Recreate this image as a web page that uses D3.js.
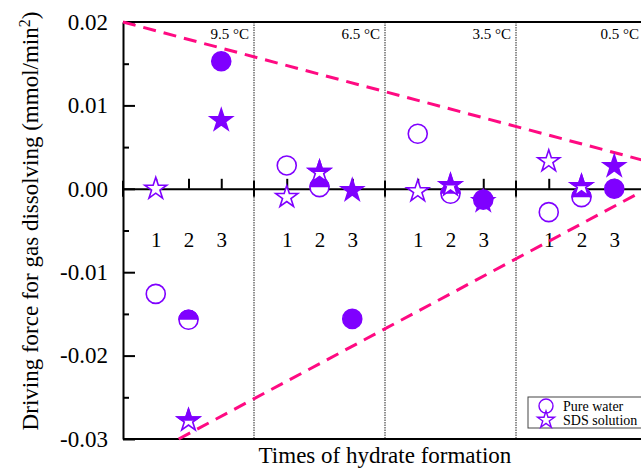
<!DOCTYPE html>
<html>
<head>
<meta charset="utf-8">
<script src="https://cdn.jsdelivr.net/npm/d3@7"></script>
<style>
  body { margin:0; background:#fff; }
  svg, svg text { font-family:"Liberation Serif","Times New Roman",serif; }
</style>
</head>
<body>
<div id="chart"></div>
<script>
var svgW = 641,
    svgH = 475;

// data
var temps = ['9.5 °C', '6.5 °C', '3.5 °C', '0.5 °C'];
var runs = ['1', '2', '3'];
var runFill = ['open', 'half', 'full'];
var pureWater = [
  [-0.0126, -0.0157, 0.0153],
  [0.0028, 0.0002, -0.0156],
  [0.0066, -0.0006, -0.0013],
  [-0.0028, -0.0010, 0.0000]
];
var sdsSolution = [
  [0.0000, -0.0278, 0.0082],
  [-0.0010, 0.0020, -0.0002],
  [-0.0003, 0.0004, -0.0015],
  [0.0033, 0.0003, 0.0027]
];
var upperBound = [{x:0, y:0.02}, {x:16, y:0.0033}];
var lowerBound = [{x:1.7, y:-0.03}, {x:16, y:0.0}];
var yMajor = [0.02, 0.01, 0.00, -0.01, -0.02, -0.03];
var yMinor = [0.015, 0.005, -0.005, -0.015, -0.025];

var violet = '#7f00ff',
    pink = '#ff0a82',
    serif = '"Liberation Serif","Times New Roman",serif';

var x = d3.scaleLinear().domain([0, 16]).range([123, 647]),
    y = d3.scaleLinear().domain([-0.03, 0.02]).range([439, 22]);

var svg = d3.select('#chart')
  .append('svg')
    .attr('width', svgW)
    .attr('height', svgH);

var defs = svg.append('defs');
defs.append('clipPath')
    .attr('id', 'topHalf')
  .append('rect')
    .attr('x', -20).attr('y', -20)
    .attr('width', 40).attr('height', 20);

// group separators
var seps = d3.range(1, temps.length + 1).map(function(i){ return i*4; });
svg.append('g')
  .selectAll('line')
  .data(seps)
  .enter()
  .append('line')
    .attr('x1', function(d){ return x(d); })
    .attr('x2', function(d){ return x(d); })
    .attr('y1', y(0.02))
    .attr('y2', y(-0.03))
    .style('stroke', '#222')
    .style('stroke-width', 1)
    .style('stroke-dasharray', '1.5,1');

// temperature labels
svg.append('g')
  .selectAll('text')
  .data(temps)
  .enter()
  .append('text')
    .attr('x', function(d, i){ return Math.min(x((i+1)*4) - 5, 639); })
    .attr('y', 39)
    .attr('text-anchor', 'end')
    .style('font-size', '15px')
    .text(function(d){ return d; });

// frame
svg.append('line')
    .attr('x1', x(0)).attr('x2', x(16))
    .attr('y1', y(0.02)).attr('y2', y(0.02))
    .style('stroke', '#000').style('stroke-width', 2);
svg.append('line')
    .attr('x1', x(0)).attr('x2', x(16))
    .attr('y1', y(-0.03)).attr('y2', y(-0.03))
    .style('stroke', '#000').style('stroke-width', 2);

// y axis
var yAxis = svg.append('g')
    .attr('transform', 'translate(' + x(0) + ',0)')
    .call(d3.axisLeft(y)
      .tickValues(yMajor)
      .tickSizeInner(-12)
      .tickSizeOuter(0)
      .tickPadding(15)
      .tickFormat(function(d){ return d.toFixed(2); }))
    .attr('font-family', serif)
    .attr('font-size', 23);
yAxis.select('.domain').style('stroke-width', 2);
yAxis.selectAll('.tick line').style('stroke-width', 2);

var yMinorAxis = svg.append('g')
    .attr('transform', 'translate(' + x(0) + ',0)')
    .call(d3.axisLeft(y)
      .tickValues(yMinor)
      .tickSizeInner(-6)
      .tickSizeOuter(0)
      .tickFormat(''));
yMinorAxis.select('.domain').remove();
yMinorAxis.selectAll('.tick line').style('stroke-width', 2);

// x axis sits on the zero line
var runPos = [];
temps.forEach(function(t, g){
  runs.forEach(function(r, k){ runPos.push(g*4 + k + 1); });
});
var xAxis = svg.append('g')
    .attr('transform', 'translate(0,' + y(0) + ')')
    .call(d3.axisBottom(x)
      .tickValues(runPos)
      .tickSizeInner(-10)
      .tickSizeOuter(0)
      .tickPadding(43)
      .tickFormat(function(d){ return runs[(d % 4) - 1]; }))
    .attr('font-family', serif)
    .attr('font-size', 21);
xAxis.select('.domain').style('stroke-width', 2);
xAxis.selectAll('.tick line').style('stroke-width', 2);

// crossing ticks at the separators
svg.append('g')
  .selectAll('line')
  .data([0].concat(seps))
  .enter()
  .append('line')
    .attr('x1', function(d){ return x(d); })
    .attr('x2', function(d){ return x(d); })
    .attr('y1', y(0) - 8)
    .attr('y2', y(0) + 8)
    .style('stroke', '#000')
    .style('stroke-width', 2);

// dashed bounds
var line = d3.line()
  .x(function(d){ return x(d.x); })
  .y(function(d){ return y(d.y); });
svg.append('g')
  .selectAll('path')
  .data([upperBound, lowerBound])
  .enter()
  .append('path')
    .attr('d', line)
    .style('fill', 'none')
    .style('stroke', pink)
    .style('stroke-width', 3)
    .style('stroke-dasharray', '13,8');

// markers
var circleR = 9.5,
    starSym = d3.symbol().type(d3.symbolStar).size(150);

function addMarker(sel, kind, fill) {
  var shape = function(s){
    if (kind == 'circle') return s.append('circle').attr('r', circleR);
    return s.append('path').attr('d', starSym);
  };
  shape(sel)
    .style('stroke', violet)
    .style('stroke-width', 1.6)
    .style('fill', fill == 'full' ? violet : '#fff');
  if (fill == 'half') {
    shape(sel)
      .attr('clip-path', 'url(#topHalf)')
      .style('stroke', violet)
      .style('stroke-width', 1.6)
      .style('fill', violet);
  }
}

function pointsOf(series) {
  var pts = [];
  series.forEach(function(vals, g){
    vals.forEach(function(v, k){
      pts.push({x: g*4 + k + 1, y: v, f: runFill[k]});
    });
  });
  return pts;
}

[['circle', pureWater], ['star', sdsSolution]].forEach(function(s){
  svg.append('g')
    .selectAll('g')
    .data(pointsOf(s[1]))
    .enter()
    .append('g')
      .attr('transform', function(d){ return 'translate(' + x(d.x) + ',' + y(d.y) + ')'; })
      .each(function(d){ addMarker(d3.select(this), s[0], d.f); });
});

// axis titles
var yTitle = svg.append('text')
    .attr('transform', 'translate(38,221) rotate(-90)')
    .attr('text-anchor', 'middle')
    .style('font-size', '23px');
yTitle.append('tspan').text('Driving force for gas dissolving (mmol/min');
yTitle.append('tspan')
    .attr('baseline-shift', 'super')
    .style('font-size', '16px')
    .text('2');
yTitle.append('tspan').text(')');

svg.append('text')
    .attr('x', 385)
    .attr('y', 463)
    .attr('text-anchor', 'middle')
    .style('font-size', '23px')
    .text('Times of hydrate formation');

// legend
var legend = svg.append('g');
legend.append('rect')
    .attr('x', 528).attr('y', 397)
    .attr('width', 118).attr('height', 31)
    .style('fill', '#fff')
    .style('stroke', '#444')
    .style('stroke-width', 1);
var legItems = ['Pure water', 'SDS solution'];
legItems.forEach(function(t, i){
  var g = legend.append('g').attr('transform', 'translate(546,' + (406 + i*14) + ')');
  if (i === 0) g.append('circle').attr('r', 7);
  else g.append('path').attr('d', d3.symbol().type(d3.symbolStar).size(90));
  g.selectAll('*').style('fill', '#fff').style('stroke', violet).style('stroke-width', 1.4);
  legend.append('text')
      .attr('x', 563)
      .attr('y', 411 + i*14)
      .style('font-size', '14px')
      .text(t);
});
</script>
</body>
</html>
